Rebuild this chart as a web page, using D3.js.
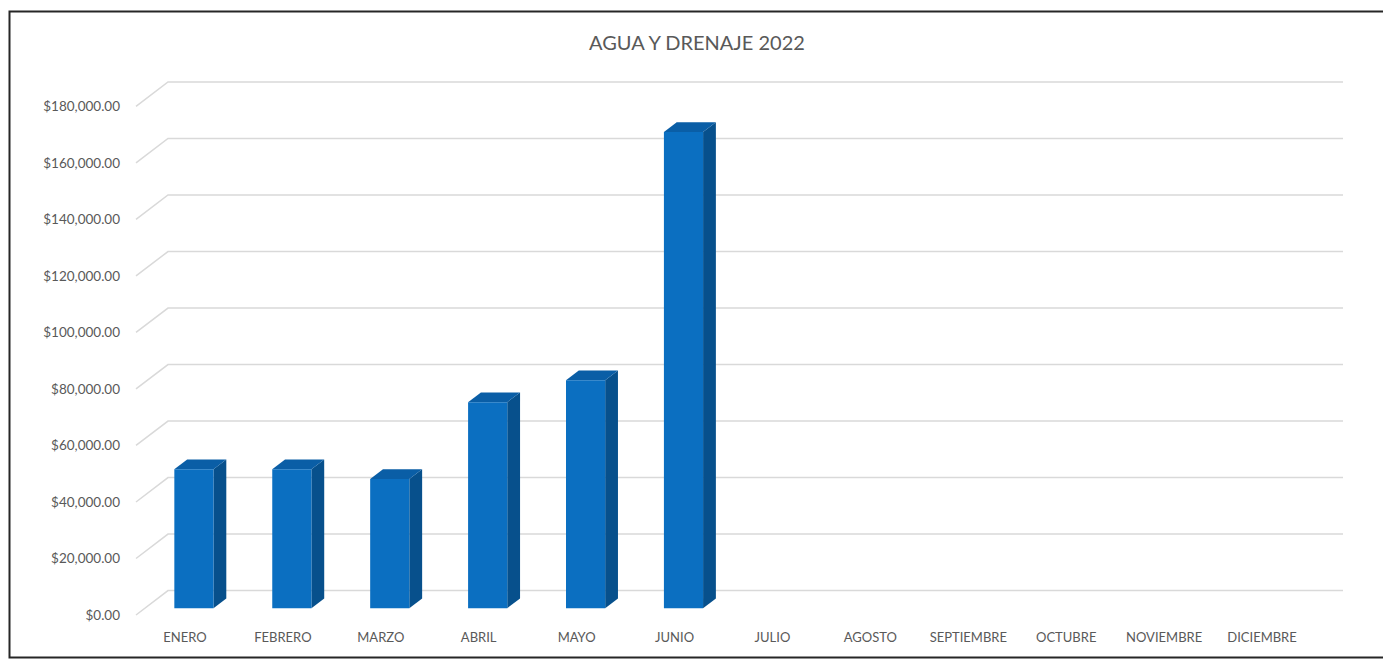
<!DOCTYPE html>
<html>
<head>
<meta charset="utf-8">
<script src="https://cdn.jsdelivr.net/npm/d3@7"></script>
<style>
  body { margin: 0; background: #fff; }
  svg { display: block; }
  text { font-family: Lato, "Liberation Sans", sans-serif; fill: #595959; }
</style>
</head>
<body>
<div id="chart"></div>
<script>
// data
var months = ["ENERO", "FEBRERO", "MARZO", "ABRIL", "MAYO", "JUNIO",
              "JULIO", "AGOSTO", "SEPTIEMBRE", "OCTUBRE", "NOVIEMBRE", "DICIEMBRE"];
var amounts = [49200, 49200, 45700, 72900, 80700, 168500, null, null, null, null, null, null];
var yTicks = [0, 20000, 40000, 60000, 80000, 100000, 120000, 140000, 160000, 180000];
var title = "AGUA Y DRENAJE 2022";

var W = 1383, H = 663;
var DX = 32, DY = 24.4;      // depth of the 3d floor
var z0 = 0.28, z1 = 0.68;    // bar depth inside the floor

var svg = d3.select("#chart").append("svg")
  .attr("width", W).attr("height", H);

svg.append("rect").attr("width", W).attr("height", H).attr("fill", "#fff");

// frame (left, top, bottom)
svg.append("path")
  .attr("d", "M1383,11.5 H9.5 V657.5 H1383")
  .attr("fill", "none").attr("stroke", "#262626").attr("stroke-width", 2);

var x = d3.scaleBand().domain(months).range([136, 1311])
  .paddingInner(0.6).paddingOuter(0.3);
var y = d3.scaleLinear().domain([0, 180000]).range([615, 106.4]);

function P(px, v, z) { return [px + z * DX, y(v) - z * DY]; }

// gridlines: left diagonal + back wall
var grid = svg.append("g");
yTicks.forEach(function (t) {
  var a = P(136, t, 0), b = P(136, t, 1), c = P(1311, t, 1);
  grid.append("path")
    .attr("d", "M" + a + "L" + b + "L" + c)
    .attr("fill", "none").attr("stroke", "#d9d9d9").attr("stroke-width", 1.5);
});

// y labels
svg.append("g").selectAll("text").data(yTicks).join("text")
  .attr("x", 120).attr("y", function (d) { return y(d); })
  .attr("dy", "0.35em").attr("text-anchor", "end")
  .attr("font-size", 13.5)
  .text(d3.format("$,.2f"));

// bars
var bars = svg.append("g").selectAll("g")
  .data(months.map(function (m, i) { return { m: m, v: amounts[i] }; })
    .filter(function (d) { return d.v != null; }))
  .join("g");

bars.append("path").attr("fill", "#07508c").attr("d", function (d) {
  var r = x(d.m) + x.bandwidth();
  return "M" + [P(r, 0, z0), P(r, 0, z1), P(r, d.v, z1), P(r, d.v, z0)].join("L") + "Z";
});
bars.append("path").attr("fill", "#0a5ea6").attr("d", function (d) {
  var l = x(d.m), r = l + x.bandwidth();
  return "M" + [P(l, d.v, z0), P(l, d.v, z1), P(r, d.v, z1), P(r, d.v, z0)].join("L") + "Z";
});
bars.append("path").attr("fill", "#0b6fc1").attr("d", function (d) {
  var l = x(d.m), r = l + x.bandwidth();
  return "M" + [P(l, 0, z0), P(r, 0, z0), P(r, d.v, z0), P(l, d.v, z0)].join("L") + "Z";
});

// x labels
svg.append("g").selectAll("text").data(months).join("text")
  .attr("x", function (d) { return x(d) + x.bandwidth() / 2; })
  .attr("y", 637).attr("dy", "0.35em").attr("text-anchor", "middle")
  .attr("font-size", 13)
  .text(function (d) { return d; });

svg.append("text")
  .attr("x", 697).attr("y", 43).attr("dy", "0.35em")
  .attr("text-anchor", "middle").attr("font-size", 20)
  .text(title);
</script>
</body>
</html>
